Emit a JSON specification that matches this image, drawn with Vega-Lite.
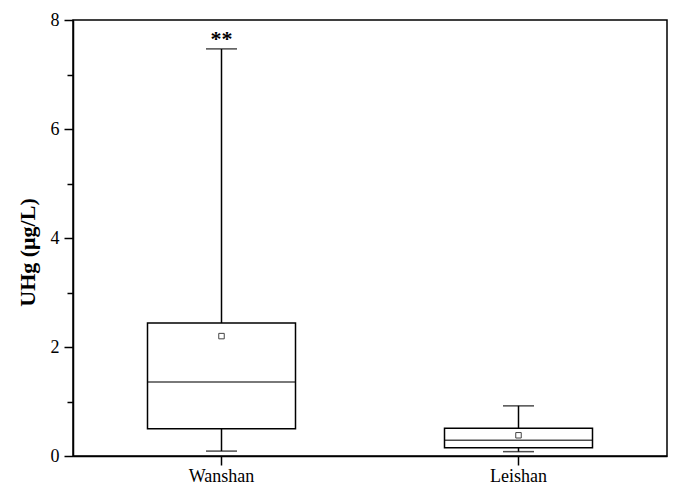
{
  "$schema": "https://vega.github.io/schema/vega-lite/v6.json",
  "width": 594,
  "height": 436,
  "autosize": {"type": "none"},
  "padding": {"left": 73, "top": 20, "right": 9, "bottom": 32},
  "background": "white",
  "config": {
    "view": {"stroke": "black", "strokeWidth": 1.5},
    "font": "Liberation Serif",
    "axis": {
      "labelFont": "Liberation Serif",
      "titleFont": "Liberation Serif",
      "labelColor": "black",
      "titleColor": "black",
      "domainColor": "black",
      "tickColor": "black",
      "domainWidth": 1.5,
      "tickWidth": 1.5,
      "grid": false
    }
  },
  "data": {
    "values": [
      {"site": "Wanshan", "min": 0.09, "q1": 0.50, "median": 1.36, "q3": 2.44, "max": 7.47, "mean": 2.20, "sig": "**"},
      {"site": "Leishan", "min": 0.08, "q1": 0.15, "median": 0.29, "q3": 0.51, "max": 0.92, "mean": 0.38, "sig": ""}
    ]
  },
  "encoding": {
    "x": {
      "field": "site",
      "type": "nominal",
      "sort": ["Wanshan", "Leishan"],
      "scale": {"paddingInner": 0, "paddingOuter": 0},
      "axis": {"title": null, "labelAngle": 0, "labelFontSize": 18, "tickSize": 9, "labelPadding": 2}
    }
  },
  "layer": [
    {
      "layer": [
        {
          "mark": {"type": "rule", "color": "black", "strokeWidth": 1.5},
          "encoding": {
            "y": {
              "field": "min",
              "type": "quantitative",
              "scale": {"domain": [0, 8], "nice": false},
              "axis": {
                "orient": "left",
                "values": [0, 2, 4, 6, 8],
                "tickSize": 9,
                "title": "UHg (μg/L)",
                "titleFontSize": 22,
                "titleFontWeight": "bold",
                "titlePadding": 11,
                "titleY": 232,
                "labelFontSize": 18,
                "labelPadding": 5
              }
            },
            "y2": {"field": "max"}
          }
        },
        {
          "mark": {"type": "bar", "fill": "white", "stroke": "black", "strokeWidth": 1.5, "size": 148},
          "encoding": {
            "y": {"field": "q1", "type": "quantitative"},
            "y2": {"field": "q3"}
          }
        },
        {
          "mark": {"type": "tick", "color": "black", "size": 148, "thickness": 1.5},
          "encoding": {"y": {"field": "median", "type": "quantitative"}}
        },
        {
          "mark": {"type": "tick", "color": "black", "size": 31, "thickness": 1.5},
          "encoding": {"y": {"field": "max", "type": "quantitative"}}
        },
        {
          "mark": {"type": "tick", "color": "black", "size": 31, "thickness": 1.5},
          "encoding": {"y": {"field": "min", "type": "quantitative"}}
        },
        {
          "mark": {"type": "point", "shape": "square", "filled": false, "stroke": "#444444", "strokeWidth": 1, "size": 30, "opacity": 1},
          "encoding": {"y": {"field": "mean", "type": "quantitative"}}
        },
        {
          "mark": {"type": "text", "fontSize": 22, "fontWeight": "bold", "baseline": "bottom", "dy": 2, "color": "black", "font": "Liberation Serif"},
          "encoding": {
            "y": {"field": "max", "type": "quantitative"},
            "text": {"field": "sig"}
          }
        }
      ]
    },
    {
      "mark": {"type": "rule", "opacity": 0},
      "encoding": {
        "y": {
          "field": "min",
          "type": "quantitative",
          "scale": {"domain": [0, 8], "nice": false},
          "axis": {
            "orient": "left",
            "values": [1, 3, 5, 7],
            "labels": false,
            "domain": false,
            "title": null,
            "tickSize": 6
          }
        }
      }
    }
  ],
  "resolve": {"axis": {"y": "independent"}}
}
